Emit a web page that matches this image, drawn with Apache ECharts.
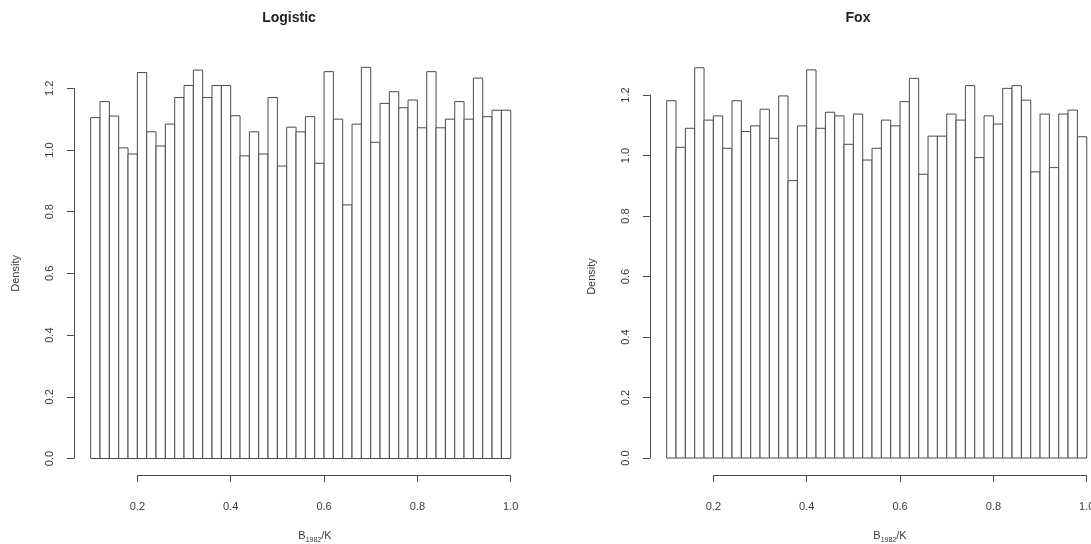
<!DOCTYPE html>
<html>
<head>
<meta charset="utf-8">
<script src="https://cdn.jsdelivr.net/npm/echarts@6/dist/echarts.min.js"></script>
<style>
  html, body { margin: 0; padding: 0; background: #fff; }
  #chart { width: 1091px; height: 544px; }
</style>
</head>
<body>
<div id="chart"></div>
<script>
// Histograms of B1982/K under two production models, 45 bins of width 0.02 on [0.1, 1.0]
const binStart = 0.1;
const binWidth = 0.02;

const logisticDensity = [
  1.105, 1.157, 1.110, 1.007, 0.987, 1.251, 1.059, 1.013, 1.084, 1.170,
  1.209, 1.259, 1.170, 1.209, 1.209, 1.111, 0.981, 1.059, 0.987, 1.170,
  0.948, 1.074, 1.059, 1.108, 0.957, 1.254, 1.100, 0.822, 1.084, 1.268,
  1.025, 1.151, 1.189, 1.137, 1.162, 1.072, 1.254, 1.072, 1.100, 1.157,
  1.100, 1.233, 1.108, 1.129, 1.129
];

const foxDensity = [
  1.181, 1.027, 1.090, 1.290, 1.117, 1.131, 1.024, 1.181, 1.079, 1.098,
  1.153, 1.057, 1.197, 0.917, 1.098, 1.283, 1.090, 1.143, 1.131, 1.037,
  1.137, 0.985, 1.024, 1.117, 1.098, 1.178, 1.255, 0.938, 1.064, 1.064,
  1.137, 1.117, 1.231, 0.993, 1.131, 1.104, 1.222, 1.231, 1.183, 0.946,
  1.137, 0.960, 1.137, 1.150, 1.062
];

const panelTitles = ['Logistic', 'Fox'];
const xTicks = [0.2, 0.4, 0.6, 0.8, 1.0];
const yTicks = [0.0, 0.2, 0.4, 0.6, 0.8, 1.0, 1.2];

const FONT = '"Liberation Sans", Arial, sans-serif';
const LINE = '#4a4a4a';
const TEXT = '#3a3a3a';

// [left edge, right edge, density] for each bin
function toBins(density) {
  return density.map((d, i) => {
    const a = +(binStart + i * binWidth).toFixed(2);
    const b = +(a + binWidth).toFixed(2);
    return [a, b, d];
  });
}

function renderBin(params, api) {
  const lo = api.coord([api.value(0), 0]);
  const hi = api.coord([api.value(1), api.value(2)]);
  return {
    type: 'rect',
    shape: { x: lo[0], y: hi[1], width: hi[0] - lo[0], height: lo[1] - hi[1] },
    style: { fill: '#ffffff', stroke: LINE, lineWidth: 1 }
  };
}

// panel geometry (pixels)
const panels = [
  { barLeft: 90.7, top: 88.3, zeroY: 458.5, titleX: 289, xNameX: 315, density: logisticDensity },
  { barLeft: 666.7, top: 95.0, zeroY: 458.0, titleX: 858, xNameX: 890, density: foxDensity }
];
const unitX = 466.7;        // px per unit of B1982/K
const axisY = 475;          // baseline of the x axis line
const yAxisOffset = 16.8;   // y axis line sits left of the first bin

const grids = [], xAxes = [], yAxes = [], series = [], graphics = [];

panels.forEach((p, k) => {
  const barWidthPx = unitX * 0.9;
  // grid holding the histogram bins
  grids.push({
    left: p.barLeft, top: p.top, width: barWidthPx, height: p.zeroY - p.top,
    containLabel: false, outerBoundsMode: 'none'
  });
  const gBars = grids.length - 1;
  xAxes.push({ gridIndex: gBars, type: 'value', min: 0.1, max: 1.0, show: false });
  yAxes.push({
    gridIndex: gBars, type: 'value', min: 0, max: 1.2, interval: 0.2,
    offset: yAxisOffset,
    axisLine: { show: true, lineStyle: { color: LINE, width: 1 } },
    axisTick: { show: true, length: 7, lineStyle: { color: LINE } },
    splitLine: { show: false },
    axisLabel: {
      rotate: 90, margin: 18, color: TEXT, fontSize: 11, fontFamily: FONT,
      formatter: v => yTicks.some(t => Math.abs(t - v) < 1e-9) ? v.toFixed(1) : ''
    },
    name: 'Density', nameLocation: 'middle', nameRotate: 90, nameGap: 52,
    nameTextStyle: { color: TEXT, fontSize: 11, fontFamily: FONT }
  });
  series.push({
    type: 'custom', xAxisIndex: gBars, yAxisIndex: gBars,
    renderItem: renderBin, data: toBins(p.density), clip: false, silent: true,
    encode: { x: [0, 1], y: 2 }
  });

  // grid carrying the visible x axis, spanning 0.2 .. 1.0
  const left02 = p.barLeft + (0.2 - binStart) * unitX;
  grids.push({
    left: left02, width: unitX * 0.8, top: axisY - 10, height: 10,
    containLabel: false, outerBoundsMode: 'none'
  });
  const gAxis = grids.length - 1;
  xAxes.push({
    gridIndex: gAxis, type: 'value', min: 0.2, max: 1.0, interval: 0.2,
    axisLine: { show: true, onZero: false, lineStyle: { color: LINE, width: 1 } },
    axisTick: { show: true, length: 7, lineStyle: { color: LINE } },
    splitLine: { show: false },
    axisLabel: {
      margin: 26, color: TEXT, fontSize: 11, fontFamily: FONT,
      formatter: v => xTicks.some(t => Math.abs(t - v) < 1e-9) ? v.toFixed(1) : ''
    }
  });
  yAxes.push({ gridIndex: gAxis, type: 'value', show: false, min: 0, max: 1 });

  // x axis title with subscript year
  graphics.push({
    type: 'text', x: p.xNameX, y: 534,
    style: {
      text: '{b|B}{s|1982}{b|/K}', textAlign: 'center', textVerticalAlign: 'middle',
      rich: {
        b: { fontSize: 11, fill: TEXT, fontFamily: FONT, lineHeight: 14, verticalAlign: 'bottom' },
        s: { fontSize: 7, fill: TEXT, fontFamily: FONT, lineHeight: 14, verticalAlign: 'bottom', padding: [0, 0, -3, 0] }
      }
    }
  });

  graphics.push({
    type: 'text', x: p.titleX, y: 18,
    style: {
      text: panelTitles[k], textAlign: 'center', textVerticalAlign: 'middle',
      font: 'bold 14px ' + FONT, fill: '#222'
    }
  });
});

const chart = echarts.init(document.getElementById('chart'), null, { renderer: 'canvas' });
chart.setOption({
  backgroundColor: '#ffffff',
  animation: false,
  grid: grids,
  xAxis: xAxes,
  yAxis: yAxes,
  series: series,
  graphic: graphics
});
</script>
</body>
</html>
